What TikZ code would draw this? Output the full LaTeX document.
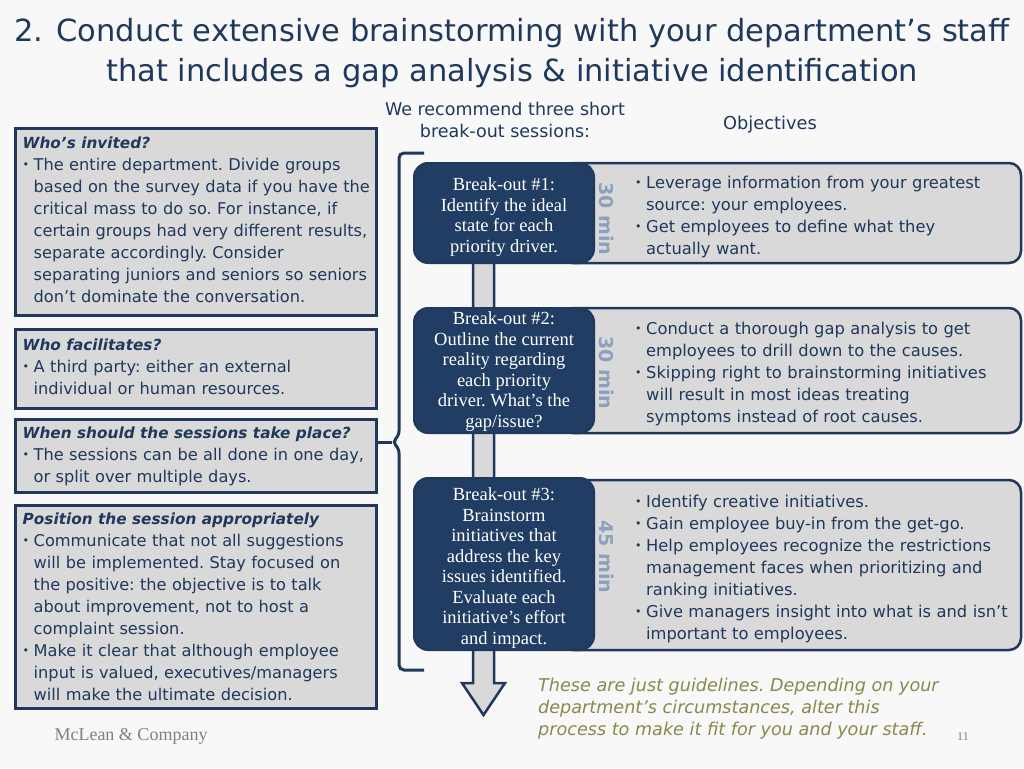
\documentclass[tikz,border=0pt]{standalone}
\usepackage{fontspec}
\setmainfont{DejaVu Sans}
\newfontfamily\boxserif{Liberation Serif}
\usetikzlibrary{positioning,calc}
\definecolor{McNavy}{RGB}{31,56,92}
\definecolor{McBlue}{RGB}{33,61,99}
\definecolor{McGray}{RGB}{217,217,217}
\definecolor{McPage}{RGB}{248,248,248}
\definecolor{McMin}{RGB}{140,160,190}
\definecolor{McOlive}{RGB}{138,136,76}
\definecolor{McFoot}{RGB}{128,128,128}
\newcommand{\bul}{\par\hangindent=11pt\hangafter=1\noindent\makebox[11pt][l]{\raisebox{1.5pt}{\fontsize{11}{11}\selectfont\textbullet}}}
\newcommand{\askhead}[1]{{\fontsize{15.3}{22}\selectfont\bfseries\itshape #1}}
\tikzset{
  title/.style={inner sep=0pt,text=McNavy,font=\fontsize{30.5}{32}\selectfont},
  ask/.style={draw=McNavy,line width=3pt,fill=McGray,minimum width=361pt,anchor=north west,inner sep=0pt},
  asktext/.style={anchor=north west,inner sep=0pt,text width=360pt,align=left,text=McNavy,
    font=\fontsize{16.2}{22}\selectfont\frenchspacing},
  goal/.style={draw=McNavy,line width=2.5pt,fill=McGray,rounded corners=12pt,minimum width=460pt,inner sep=0pt},
  goaltext/.style={anchor=west,inner sep=0pt,text width=385pt,align=left,text=McNavy,
    font=\fontsize{16.3}{22}\selectfont\frenchspacing},
  brk/.style={draw=McNavy,line width=2pt,fill=McBlue,rounded corners=14pt,minimum width=180pt,inner sep=0pt,
    text=white,align=center,font=\boxserif\fontsize{18.5}{20.5}\selectfont\frenchspacing},
  mins/.style={rotate=-90,inner sep=0pt,text=McMin,font=\fontsize{19}{20}\selectfont\bfseries},
  flow/.style={draw=McNavy,line width=2.5pt,fill=McGray,line join=miter},
  sessbrace/.style={draw=McNavy,line width=3pt,rounded corners=5pt},
}
\begin{document}
\begin{tikzpicture}[x=1pt,y=-1pt]
\fill[McPage] (0,0) rectangle (1024,768);
\useasboundingbox (0,0) rectangle (1024,768);

\node[title] (head1) at (512,33) {2. Conduct extensive brainstorming with your department’s staff};
\node[title] (head2) at (512,73) {that includes a gap analysis \& initiative identification};
\node[align=center,text=McNavy,inner sep=0pt,font=\fontsize{17.5}{22}\selectfont] (recomm) at (505,120) {We recommend three short\\break-out sessions:};
\node[text=McNavy,inner sep=0pt,font=\fontsize{17.8}{22}\selectfont] (objhead) at (770,125) {Objectives};

\coordinate (flowtop) at (483.5,240);
\coordinate (flowtip) at (483.5,715);
\draw[flow] ($(flowtop)+(-10.5,0)$) -- ($(flowtip)+(-10.5,-32)$) -- ($(flowtip)+(-21.5,-32)$) -- (flowtip)
  -- ($(flowtip)+(21.5,-32)$) -- ($(flowtip)+(10.5,-32)$) -- ($(flowtop)+(10.5,0)$) -- cycle;

\node[ask,minimum height=187pt] (who) at (13.5,126.5) {};
\node[ask,minimum height=79pt] (facil) at (13.5,327.5) {};
\node[ask,minimum height=73pt] (when) at (13.5,417.5) {};
\node[ask,minimum height=203pt] (pos) at (13.5,503.5) {};

\node[asktext] (whotext) at ($(who.north west)+(9,10)$) {\askhead{Who’s invited?}
\bul The entire department. Divide groups\newline based on the survey data if you have the\newline critical mass to do so. For instance, if\newline certain groups had very different results,\newline separate accordingly. Consider\newline separating juniors and seniors so seniors\newline don’t dominate the conversation.\par};
\node[asktext] (faciltext) at ($(facil.north west)+(9,11)$) {\askhead{Who facilitates?}
\bul A third party: either an external\newline individual or human resources.\par};
\node[asktext] (whentext) at ($(when.north west)+(9,9)$) {\askhead{When should the sessions take place?}
\bul The sessions can be all done in one day,\newline or split over multiple days.\par};
\node[asktext] (postext) at ($(pos.north west)+(9,9)$) {\askhead{Position the session appropriately}
\bul Communicate that not all suggestions\newline will be implemented. Stay focused on\newline the positive: the objective is to talk\newline about improvement, not to host a\newline complaint session.
\bul Make it clear that although employee\newline input is valued, executives/managers\newline will make the ultimate decision.\par};

\coordinate (bracetip) at (392,442);
\draw[sessbrace] (424,153) -- (399,153) -- (399,436) -- (bracetip) -- (399,448) -- (399,670) -- (424,670);
\draw[draw=McNavy,line width=3pt] (bracetip) -- (bracetip -| when.east);

\node[goal,minimum height=100pt] (goal1) at (791,213) {};
\node[goal,minimum height=125pt] (goal2) at (791,370.5) {};
\node[goal,minimum height=170pt] (goal3) at (791,565) {};

\node[brk,minimum height=100pt] (brk1) at (504,213) {};
\node[brk,minimum height=125pt] (brk2) at (504,370.5) {};
\node[brk,minimum height=172pt] (brk3) at (504,564) {};
\node[brk,draw=none,fill=none] (brk1text) at ($(brk1)+(0,4)$) {Break-out \#1:\\Identify the ideal\\state for each\\priority driver.};
\node[brk,draw=none,fill=none] (brk2text) at ($(brk2)+(0,1)$) {Break-out \#2:\\Outline the current\\reality regarding\\each priority\\driver. What’s the\\gap/issue?};
\node[brk,draw=none,fill=none] (brk3text) at ($(brk3)+(0,4)$) {Break-out \#3:\\Brainstorm\\initiatives that\\address the key\\issues identified.\\Evaluate each\\initiative’s effort\\and impact.};

\node[mins] (min1) at (607,219) {30 min};
\node[mins] (min2) at (607,373) {30 min};
\node[mins] (min3) at (607,557) {45 min};

\node[goaltext] (goal1text) at (635,212) {\bul Leverage information from your greatest\newline source: your employees.
\bul Get employees to define what they\newline actually want.\par};
\node[goaltext] (goal2text) at (635,369) {\bul Conduct a thorough gap analysis to get\newline employees to drill down to the causes.
\bul Skipping right to brainstorming initiatives\newline will result in most ideas treating\newline symptoms instead of root causes.\par};
\node[goaltext] (goal3text) at (635,564) {\bul Identify creative initiatives.
\bul Gain employee buy-in from the get-go.
\bul Help employees recognize the restrictions\newline management faces when prioritizing and\newline ranking initiatives.
\bul Give managers insight into what is and isn’t\newline important to employees.\par};

\node[anchor=north west,inner sep=0pt,align=left,text=McOlive,font=\fontsize{17.6}{22}\selectfont\itshape\frenchspacing] (note) at (538,678) {These are just guidelines. Depending on your\\department’s circumstances, alter this\\process to make it fit for you and your staff.};
\node[inner sep=0pt,text=McFoot,font=\boxserif\fontsize{18}{20}\selectfont] (firm) at (131,736) {McLean \& Company};
\node[inner sep=0pt,text=McFoot,font=\boxserif\fontsize{12}{14}\selectfont] (page) at (963,737) {11};
\end{tikzpicture}
\end{document}
